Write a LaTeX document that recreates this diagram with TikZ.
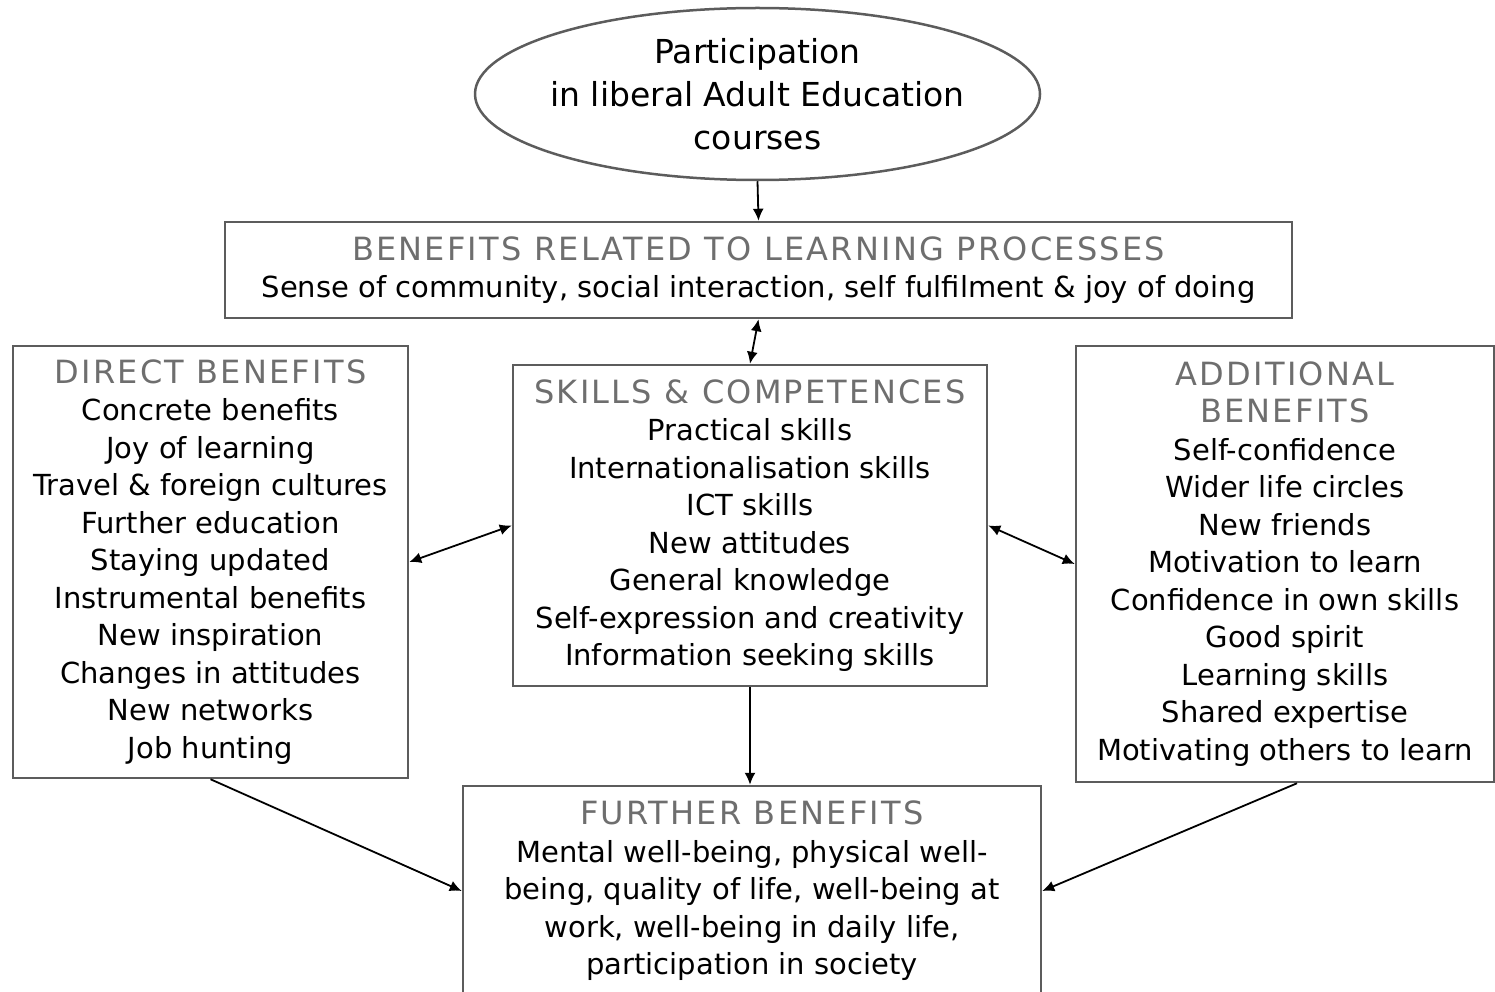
\documentclass[tikz,border=0pt]{standalone}
\usepackage{fontspec}
\setmainfont{DejaVu Sans}
\usetikzlibrary{shapes.geometric,arrows.meta}
\definecolor{grey3}{HTML}{6e6e6e}
\definecolor{grey5}{HTML}{5c5c5c}
\newcommand{\hd}[1]{{\color{grey3}\fontsize{32}{37.5}\selectfont\addfontfeature{LetterSpace=7}#1}}

\begin{document}
\begin{tikzpicture}[x=1pt, y=-1pt, align=center,
  box/.style={draw=grey5, line width=2.5pt, inner sep=0pt,
    font=\fontsize{29}{37.5}\selectfont},
  link/.style={line width=1.8pt, -{Latex[length=12pt,width=11pt]}},
  both/.style={line width=1.8pt, {Latex[length=12pt,width=11pt]}-{Latex[length=12pt,width=11pt]}}]
\clip (0,0) rectangle (1495,992);

\node[box, ellipse, minimum width=565, minimum height=172, inner xsep=-8pt,
  font=\fontsize{33}{43}\selectfont] (course) at (757.5,94)
  {Participation\\in liberal Adult Education\\courses};

\node[box, minimum width=1067, minimum height=96] (process) at (758.5,270)
  {\hd{BENEFITS RELATED TO LEARNING PROCESSES}\\
   Sense of community, social interaction, self fulfilment \& joy of doing};

\node[box, minimum width=395, minimum height=432] (direct) at (210.5,562)
  {\hd{DIRECT BENEFITS}\\Concrete benefits\\Joy of learning\\Travel \& foreign cultures\\
   Further education\\Staying updated\\Instrumental benefits\\New inspiration\\
   Changes in attitudes\\New networks\\Job hunting};

\node[box, minimum width=474, minimum height=321] (skills) at (750,525.5)
  {\hd{SKILLS \& COMPETENCES}\\Practical skills\\Internationalisation skills\\ICT skills\\
   New attitudes\\General knowledge\\Self-expression and creativity\\Information seeking skills};

\node[box, minimum width=418, minimum height=436] (additional) at (1285,564)
  {\hd{ADDITIONAL}\\\hd{BENEFITS}\\Self-confidence\\Wider life circles\\New friends\\
   Motivation to learn\\Confidence in own skills\\Good spirit\\Learning skills\\
   Shared expertise\\Motivating others to learn};

\node[box, minimum width=578, minimum height=210] (further) at (752,891)
  {\hd{FURTHER BENEFITS}\\Mental well-being, physical well-\\being, quality of life, well-being at\\
   work, well-being in daily life,\\participation in society};

\draw[link] (course.south) -- (process.north);
\draw[both] (process.south) -- (skills.north);
\draw[both] (direct.east) -- (skills.west);
\draw[both] (skills.east) -- (additional.west);
\draw[link] (skills.south) -- (skills.south |- further.north);
\draw[link] (direct.south) -- (further.west);
\draw[link] ([xshift=12pt]additional.south) -- (further.east);
\end{tikzpicture}
\end{document}
